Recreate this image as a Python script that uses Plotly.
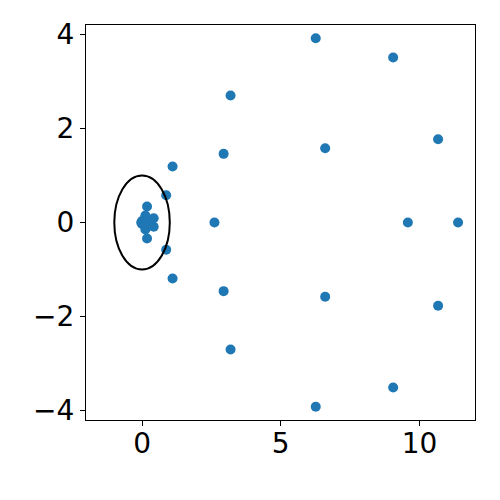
import plotly.graph_objects as go

# Scatter points
x_vals = [6.26, 9.05, 3.19, 10.67, 6.60, 2.94, 1.10, 0.87, 2.61, 9.58, 11.39,
          0.87, 1.10, 2.94, 6.60, 10.67, 3.19, 9.05, 6.26,
          0.18, 0.42, 0.42, 0.18, 0.12, 0.12, 0.00, 0.00, -0.03, 0.15]
y_vals = [3.92, 3.51, 2.70, 1.77, 1.58, 1.46, 1.19, 0.58, 0.00, 0.00, 0.00,
          -0.58, -1.19, -1.46, -1.58, -1.77, -2.70, -3.51, -3.92,
          0.34, 0.09, -0.09, -0.34, 0.15, -0.15, 0.03, -0.03, 0.00, 0.00]

circle_radius = 1.0
x_ticks = [0, 5, 10]
y_ticks = [-4, -2, 0, 2, 4]
x_range = [-2.02, 12.0]
y_range = [-4.2, 4.2]

fig = go.Figure()
fig.add_trace(go.Scatter(
    x=x_vals, y=y_vals, mode="markers",
    marker=dict(color="#1f77b4", size=10, line=dict(width=0)),
    showlegend=False,
))
fig.add_shape(type="circle", xref="x", yref="y",
              x0=-circle_radius, x1=circle_radius,
              y0=-circle_radius, y1=circle_radius,
              line=dict(color="black", width=2))

axis_common = dict(
    showgrid=False, zeroline=False, showline=True, linecolor="black",
    linewidth=1, mirror=True, ticks="outside", ticklen=5, tickwidth=1,
    tickcolor="black", automargin=False,
    tickfont=dict(family="DejaVu Sans", size=28, color="black"),
)
fig.update_xaxes(range=x_range, tickvals=x_ticks, ticklabelstandoff=-7, **axis_common)
fig.update_yaxes(range=y_range, tickvals=y_ticks, **axis_common)

fig.update_layout(
    width=500, height=500,
    margin=dict(l=77.5, r=32.5, t=17, b=88),
    plot_bgcolor="white", paper_bgcolor="white",
)
fig.write_html("out.html")
